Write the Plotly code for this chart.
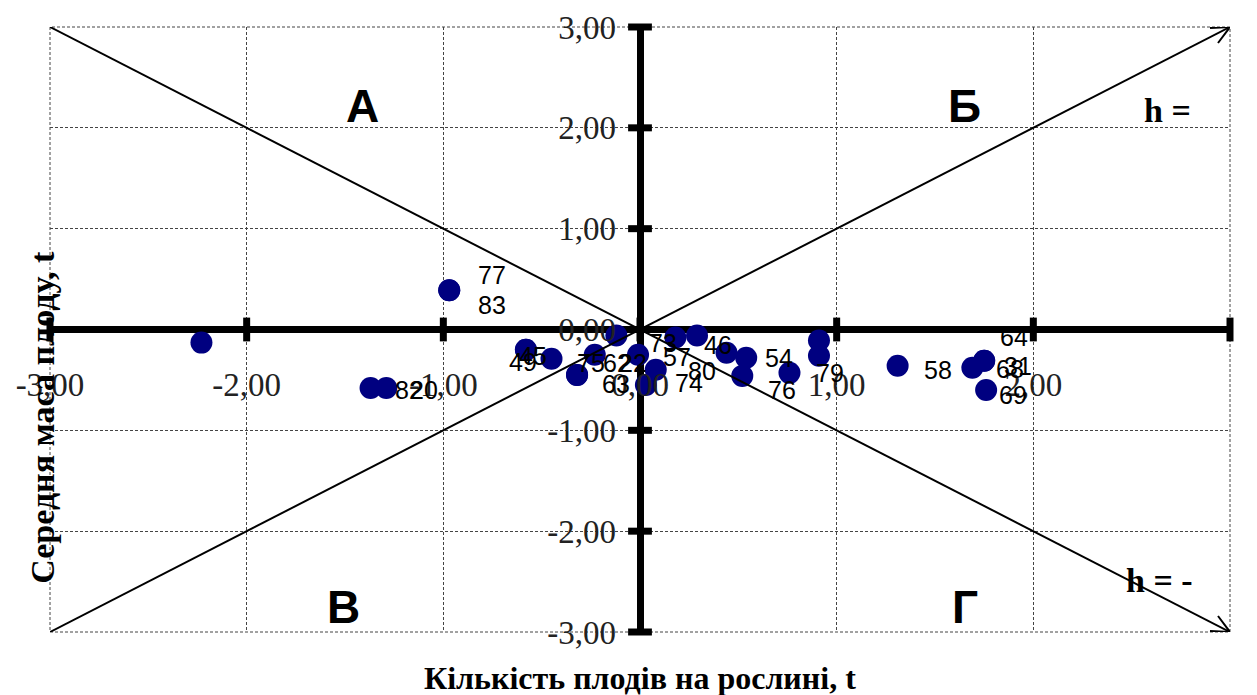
import plotly.graph_objects as go

# ---- data ----
x_vals = [-2.23, -1.37, -1.29, -0.97, -0.97, -0.58, -0.58, -0.45, -0.32, -0.32,
          -0.23, -0.12, -0.01, 0.08, 0.03, 0.18, 0.29, 0.44, 0.54, 0.52,
          0.76, 0.91, 0.91, 1.31, 1.69, 1.75, 1.75, 1.76]
y_vals = [-0.13, -0.58, -0.58, 0.39, 0.39, -0.20, -0.20, -0.29, -0.45, -0.45,
          -0.25, -0.06, -0.25, -0.40, -0.55, -0.08, -0.06, -0.23, -0.28, -0.46,
          -0.43, -0.11, -0.26, -0.36, -0.38, -0.31, -0.31, -0.60]
point_labels = ["", "82", "20", "77", "83", "45", "49", "75", "63", "62",
                "22", "73", "57", "80", "74", "46", "", "", "54", "76",
                "79", "", "", "58", "68", "31", "64", "69"]

tick_vals = [-3, -2, -1, 0, 1, 2, 3]
tick_text = ["-3,00", "-2,00", "-1,00", "0,00", "1,00", "2,00", "3,00"]

quadrant_names = ["А", "Б", "В", "Г"]
quadrant_x = [-1.41, 1.65, -1.51, 1.65]
quadrant_y = [2.22, 2.22, -2.75, -2.75]

x_title = "Кількість плодів на рослині, t"
y_title = "Середня маса плоду, t"

# ---- label placement (screen px offsets, y down) ----
label_dx = [0, 38, 38, 43, 43, 7, -3, 39, 39, 40,
            38, 47, 39, 46, 43, 43, 0, 0, 33, 40,
            41, 0, 0, 40, 38, 34, 30, 27]
label_dy = [0, 2, 2, -15, 15, 6, 12, 4, 9, -12,
            8, 7, 2, 1, -2, 7, 0, 0, 0, 14,
            0, 0, 0, 4, 1, 5, -24, 5]

SERIF = "Liberation Serif, Times New Roman, serif"
SANS = "Liberation Sans, Arial, sans-serif"

fig = go.Figure()

# tick marks crossing the thick axes
fig.add_trace(go.Scatter(x=tick_vals, y=[0] * len(tick_vals), mode="markers",
                         marker=dict(symbol="line-ns", size=17, color="black",
                                     line=dict(width=7, color="black")),
                         cliponaxis=False, hoverinfo="skip"))
fig.add_trace(go.Scatter(x=[0] * len(tick_vals), y=tick_vals, mode="markers",
                         marker=dict(symbol="line-ew", size=17, color="black",
                                     line=dict(width=7, color="black")),
                         cliponaxis=False, hoverinfo="skip"))

# data points
fig.add_trace(go.Scatter(x=x_vals, y=y_vals, mode="markers",
                         marker=dict(size=22, color="#000080", line=dict(width=0))))

annotations = []
for xv, yv, lab, dx, dy in zip(x_vals, y_vals, point_labels, label_dx, label_dy):
    if not lab:
        continue
    annotations.append(dict(x=xv, y=yv, xref="x", yref="y", text=lab, showarrow=False,
                            xshift=dx, yshift=-dy,
                            font=dict(family=SANS, size=25, color="black")))

for name, qx, qy in zip(quadrant_names, quadrant_x, quadrant_y):
    annotations.append(dict(x=qx, y=qy, xref="x", yref="y", text="<b>%s</b>" % name,
                            showarrow=False, font=dict(family=SANS, size=46, color="black")))

annotations.append(dict(x=2.68, y=2.17, xref="x", yref="y", text="<b>h =</b>", showarrow=False,
                        font=dict(family=SERIF, size=34, color="black")))
annotations.append(dict(x=2.64, y=-2.49, xref="x", yref="y", text="<b>h = -</b>", showarrow=False,
                        font=dict(family=SERIF, size=34, color="black")))

annotations.append(dict(x=0.5, y=0, xref="paper", yref="paper", yanchor="middle", yshift=-46,
                        text="<b>%s</b>" % x_title, showarrow=False,
                        font=dict(family=SERIF, size=32, color="black")))
annotations.append(dict(x=0, y=0.355, xref="paper", yref="paper", xshift=-28, textangle=-90,
                        text="<b>%s</b>" % y_title, showarrow=False,
                        font=dict(family=SERIF, size=34, color="black")))

shapes = [
    dict(type="rect", xref="paper", yref="paper", x0=0, y0=0, x1=1, y1=1,
         line=dict(color="#444", width=1, dash="3px,2px"), layer="below"),
    dict(type="line", xref="x", yref="y", x0=-3, y0=3, x1=3, y1=-3,
         line=dict(color="black", width=2)),
    dict(type="line", xref="x", yref="y", x0=-3, y0=-3, x1=3, y1=3,
         line=dict(color="black", width=2)),
    # arrow heads at the line ends
    dict(type="path", xref="x", yref="y", xsizemode="pixel", ysizemode="pixel",
         xanchor=3, yanchor=3, path="M -20,-1 L 0,0 L -12,-16",
         line=dict(color="black", width=2)),
    dict(type="path", xref="x", yref="y", xsizemode="pixel", ysizemode="pixel",
         xanchor=3, yanchor=-3, path="M -20,1 L 0,0 L -12,16",
         line=dict(color="black", width=2)),
]

axis_common = dict(range=[-3, 3], tickvals=tick_vals, ticktext=tick_text,
                   showgrid=True, gridcolor="#444", gridwidth=1, griddash="3px,2px",
                   zeroline=True, zerolinecolor="black", zerolinewidth=7,
                   showline=False, ticks="", anchor="free", position=0.5,
                   automargin=False,
                   tickfont=dict(family=SERIF, size=33, color="#222"), fixedrange=True)

# the page body adds an 8px offset, so the figure is 8px smaller each way
fig.update_layout(
    width=1249, height=687,
    margin=dict(l=42, r=27, t=19, b=63, autoexpand=False),
    plot_bgcolor="white", paper_bgcolor="white",
    showlegend=False,
    xaxis=dict(**axis_common, ticklabelstandoff=32),
    yaxis=dict(**axis_common, ticklabelstandoff=24),
    annotations=annotations,
    shapes=shapes,
)

fig.write_html("out.html")
